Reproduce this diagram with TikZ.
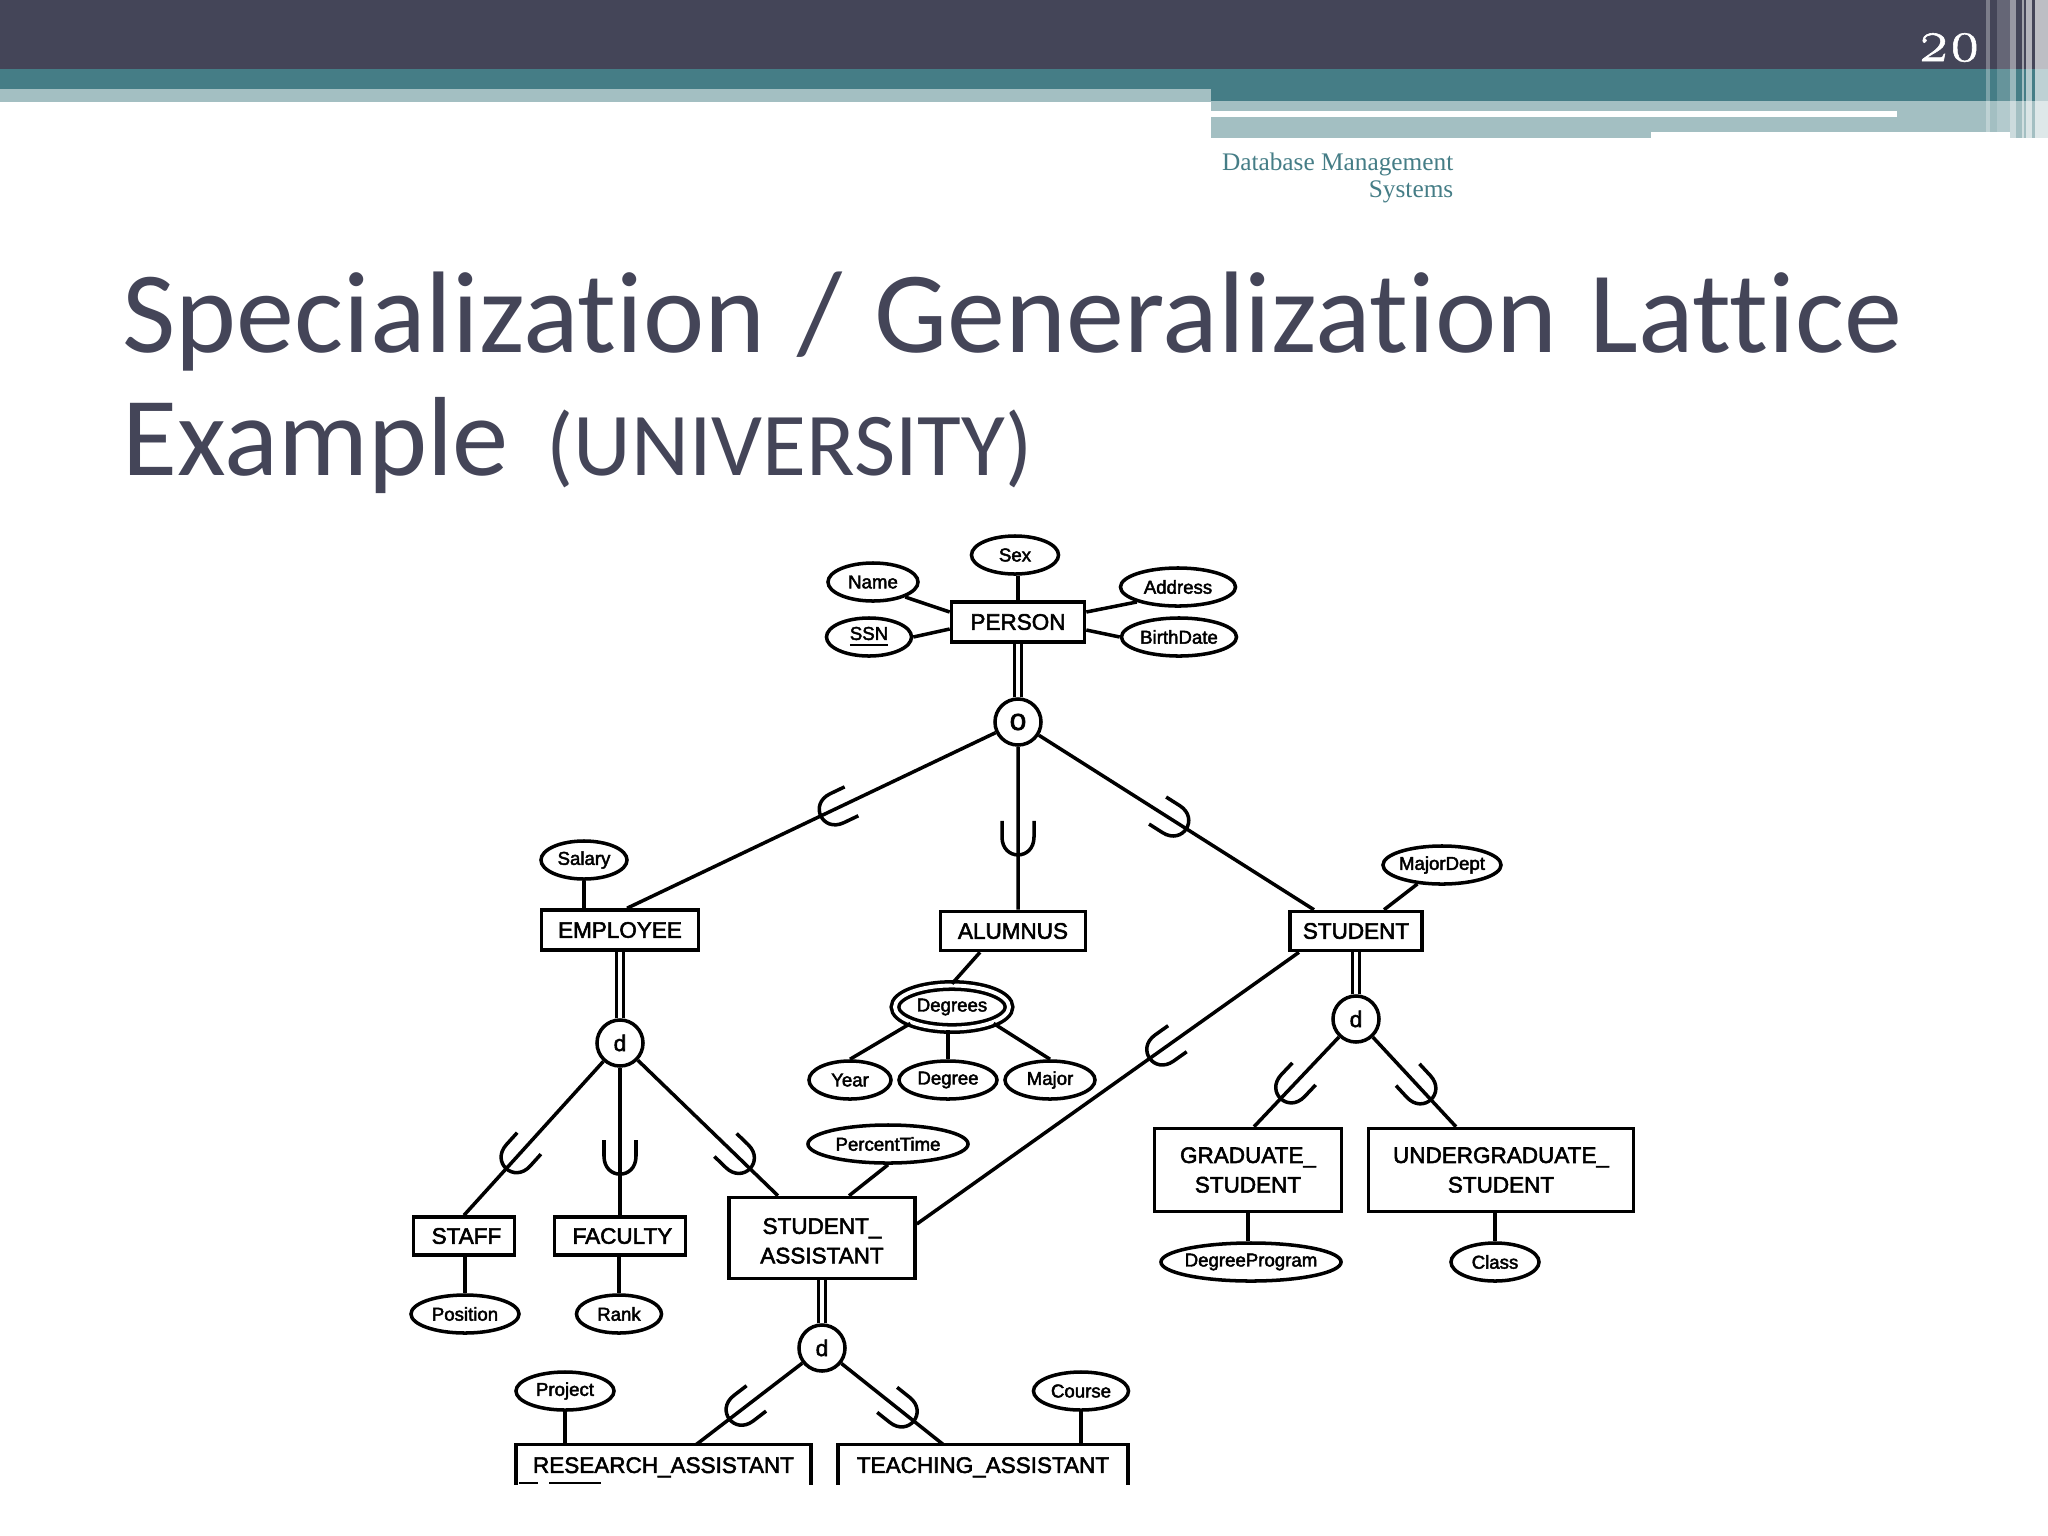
\documentclass[tikz,border=0pt]{standalone}
\usepackage{fontspec}
\usetikzlibrary{shapes.geometric,decorations.markings}
\newfontfamily\erfont[FakeBold=2.4]{Liberation Sans}
\newfontfamily\titlefont[Ligatures=NoCommon]{Carlito}
\newfontfamily\slidefont{Liberation Serif}
\newfontfamily\numfont[Numbers=OldStyle,FakeBold=1]{Latin Modern Roman}
\definecolor{slidedark}{HTML}{444558}
\definecolor{slideteal}{HTML}{457D86}
\definecolor{slidelight}{HTML}{A3BFC2}
\tikzset{
  attr/.style={draw,ellipse,inner ysep=0pt,inner xsep=-1.5pt,line width=1pt,minimum height=.38cm,font=\erfont\fontsize{5.3}{6}\selectfont},
  entity/.style={draw,rectangle,inner sep=0pt,line width=1pt,align=center,font=\erfont\fontsize{6.4}{8.4}\selectfont},
  dnode/.style={draw,circle,inner sep=0pt,line width=1pt,minimum size=.46cm,font=\erfont\fontsize{6.4}{7}\selectfont},
  openbox/.style={inner sep=0pt,align=center,font=\erfont\fontsize{6.4}{8.4}\selectfont},
  link/.style={line width=1pt},
  dlink/.style={line width=1pt,double,double distance=1pt},
  subsetmark/.style={postaction={decorate,decoration={markings,mark=at position #1 with {
    \draw[line width=1pt] (-22,16) -- (-6,16) .. controls (6,16) and (12,8) .. (12,0) .. controls (12,-8) and (6,-16) .. (-6,-16) -- (-22,-16);}}}},
}
\begin{document}
\begin{tikzpicture}[x=.01cm,y=-.01cm]
\useasboundingbox (0,0) rectangle (2048,1536);
% slide header
\fill[slidelight] (0,89) rectangle (1211,102);
\fill[slidelight] (1211,101) rectangle (2048,138);
\fill[white] (1211,111) rectangle (1897,117);
\fill[slideteal] (0,69) rectangle (1211,89);
\fill[slideteal] (1211,69) rectangle (2048,101);
\fill[slidedark] (0,0) rectangle (2048,69);
\foreach \xa/\xb/\op in {1986/1990/.3,1997/2010/.18,2010/2016/.45,2022/2024/.5,2026/2032/.6,2035/2048/.65}
  \fill[white,opacity=\op] (\xa,0) rectangle (\xb,138);
\fill[white] (1651,132) rectangle (2010,138);
\node[text=white,anchor=base east,inner sep=0pt,font=\numfont\fontsize{17}{18}\selectfont] (pagenum) at (1981,61) {20};
\node[text=slideteal,anchor=north east,align=right,inner sep=0pt,font=\slidefont\fontsize{7.2}{7.7}\selectfont] (footer) at (1454,152) {Database Management\\Systems};
\node[text=slidedark,anchor=base west,inner sep=0pt,font=\titlefont\fontsize{33}{34}\selectfont] (title1) at (122,352) {\spaceskip=9.2pt Specialization / Generalization Lattice};
\node[text=slidedark,anchor=base west,inner sep=0pt,font=\titlefont\fontsize{32}{34}\selectfont] (title2) at (122,475) {Example};
\node[text=slidedark,anchor=base west,inner sep=0pt,font=\titlefont\fontsize{25.5}{27}\selectfont] (title3) at (546,475) {(UNIVERSITY)};
% person
\node[entity,minimum width=1.33cm,minimum height=.40cm] (person) at (1018,622) {PERSON};
\node[attr,minimum width=.87cm] (sex) at (1015,555) {Sex};
\node[attr,minimum width=.90cm] (name) at (873,582) {Name};
\node[attr,minimum width=.85cm] (ssn) at (869,637) {\underline{SSN}};
\node[attr,minimum width=1.15cm] (address) at (1178,587) {Address};
\node[attr,minimum width=1.15cm] (birthdate) at (1179,637) {BirthDate};
\node[dnode,font=\erfont\fontsize{8.5}{9}\selectfont] (oPerson) at (1018,722) {o};
\draw[link] (person.north) -- (person.north |- sex.south);
\draw[link] (name.-25) -- ([yshift=1mm]person.west);
\draw[link] (ssn.east) -- ([yshift=-.7mm]person.west);
\draw[link] (address.200) -- ([yshift=1mm]person.east);
\draw[link] (birthdate.west) -- ([yshift=-.8mm]person.east);
\draw[dlink] (person.south) -- (oPerson.north);
% employee
\node[entity,minimum width=1.57cm,minimum height=.40cm] (employee) at (620,930) {EMPLOYEE};
\node[attr,minimum width=.86cm] (salary) at (584,860) {Salary};
\node[dnode] (dEmployee) at (620,1043) {d};
\node[entity,minimum width=1.01cm,minimum height=.38cm] (staff) at (464,1236) {\hspace*{1.4pt}STAFF};
\node[entity,minimum width=1.31cm,minimum height=.38cm] (faculty) at (620,1236) {\hspace*{1.4pt}FACULTY};
\node[attr,minimum width=1.08cm] (position) at (465,1314) {Position};
\node[attr,minimum width=.85cm] (rank) at (619,1314) {Rank};
\draw[link,subsetmark=.445] (oPerson) -- ([xshift=.7mm]employee.north);
\draw[link] (salary.south) -- (salary.south |- employee.north);
\draw[dlink] (employee.south) -- (dEmployee.north);
\draw[link,subsetmark=.64] (dEmployee) -- (staff.north);
\draw[link,subsetmark=.64] (dEmployee) -- (faculty.north);
\draw[link] (position.north) -- (position.north |- staff.south);
\draw[link] (rank.north) -- (rank.north |- faculty.south);
% alumnus
\node[entity,minimum width=1.45cm,minimum height=.39cm] (alumnus) at (1013,931) {ALUMNUS};
\node[attr,double,double distance=1.1pt,minimum width=1.14cm,minimum height=.43cm] (degrees) at (952,1007) {Degrees};
\node[attr,minimum width=.82cm] (year) at (850,1080) {Year};
\node[attr,minimum width=.98cm] (degree) at (948,1080) {Degree};
\node[attr,minimum width=.90cm] (major) at (1050,1080) {Major};
\draw[link,subsetmark=.59] (oPerson) -- ([xshift=.5mm]alumnus.north);
\draw[link] ([xshift=-3.3mm]alumnus.south) -- (degrees.north);
\draw[link] (degrees.south west) -- (year.north);
\draw[link] (degree.north) -- (degree.north |- degrees.south);
\draw[link] (degrees.south east) -- (major.north);
% student
\node[entity,minimum width=1.32cm,minimum height=.39cm] (student) at (1356,931) {STUDENT};
\node[attr,minimum width=1.18cm] (majordept) at (1442,865) {MajorDept};
\node[dnode] (dStudent) at (1356,1019) {d};
\node[entity,minimum width=1.87cm,minimum height=.83cm] (gradstudent) at (1248,1170) {GRADUATE\_\\STUDENT};
\node[entity,minimum width=2.65cm,minimum height=.83cm] (ugradstudent) at (1501,1170) {UNDERGRADUATE\_\\STUDENT};
\node[attr,minimum width=1.80cm] (degreeprogram) at (1251,1262) {DegreeProgram};
\node[attr,minimum width=.88cm] (class) at (1495,1262) {Class};
\draw[link,subsetmark=.50] (oPerson) -- ([xshift=-4.2mm]student.north);
\draw[link] (majordept) -- ([xshift=2.8mm]student.north);
\draw[dlink] (student.south) -- (dStudent.north);
\draw[link,subsetmark=.59] (dStudent) -- ([xshift=.6mm]gradstudent.north);
\draw[link,subsetmark=.60] (dStudent) -- ([xshift=-4.5mm]ugradstudent.north);
\draw[link] (gradstudent.south) -- (gradstudent.south |- degreeprogram.north);
\draw[link] (class.north) -- (class.north |- ugradstudent.south);
% student assistant
\node[entity,minimum width=1.86cm,minimum height=.81cm] (assistant) at (822,1238) {\rule{0pt}{6.1pt}STUDENT\_\\ASSISTANT};
\node[attr,minimum width=1.60cm] (percenttime) at (888,1144) {PercentTime};
\node[dnode] (dAssistant) at (822,1348) {d};
\node[openbox,minimum width=2.93cm,minimum height=.39cm] (research) at (663.5,1464.5) {\raisebox{-2.4pt}[0pt][0pt]{RESEARCH\_ASSISTANT}};
\node[openbox,minimum width=2.88cm,minimum height=.39cm] (teaching) at (983,1464.5) {\raisebox{-2.4pt}[0pt][0pt]{TEACHING\_ASSISTANT}};
\node[attr,minimum width=.98cm] (project) at (565,1391) {Project};
\node[attr,minimum width=.95cm] (course) at (1081,1391) {Course};
\draw[link,subsetmark=.74] (dEmployee) -- ([xshift=-4.4mm]assistant.north);
\draw[link,subsetmark=.365] ([xshift=-5.7mm]student.south) -- ([yshift=1.4mm]assistant.east);
\draw[link] (percenttime.south) -- ([xshift=2.7mm]assistant.north);
\draw[dlink] (assistant.south) -- (dAssistant.north);
\draw[link] (research.south west) -- (research.north west) -- (research.north east) -- (research.south east);
\draw[link] (teaching.south west) -- (teaching.north west) -- (teaching.north east) -- (teaching.south east);
\draw[line width=.5pt] (519,1483) -- (538,1483) (549,1483) -- (601,1483);
\draw[link,subsetmark=.60] (dAssistant) -- ([xshift=3.3mm]research.north);
\draw[link,subsetmark=.62] (dAssistant) -- ([xshift=-4mm]teaching.north);
\draw[link] (project.south) -- (project.south |- research.north);
\draw[link] (course.south) -- (course.south |- teaching.north);
\end{tikzpicture}
\end{document}
